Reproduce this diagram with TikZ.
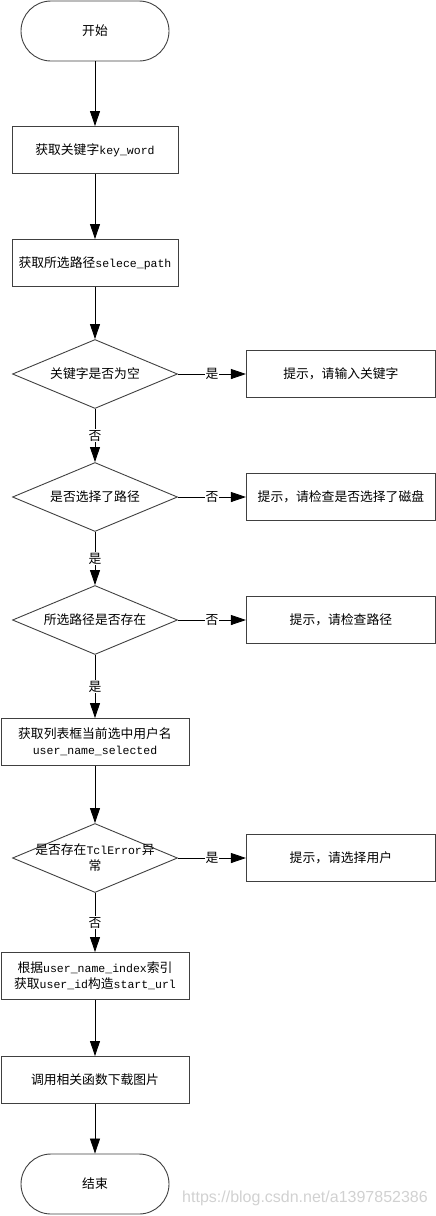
\documentclass[tikz,border=0pt]{standalone}
\usepackage{fontspec}
\setmainfont{Noto Sans CJK SC}
\newfontfamily\codefont{Liberation Mono}[Scale=0.9]
\newfontfamily\markfont{Liberation Sans}
\newcommand{\code}[1]{{\codefont #1}}
\usetikzlibrary{arrows.meta, positioning, shapes.geometric}

\begin{document}
\begin{tikzpicture}[x=1pt, y=-1pt, terminal/.style={rectangle, draw=black!75, line width=0.9pt, rounded corners=30pt, minimum width=148pt, minimum height=60pt}, process/.style={rectangle, draw=black!75, line width=0.9pt, minimum width=166pt, minimum height=47pt, align=center}, decision/.style={diamond, draw=black!75, line width=0.9pt, minimum width=165pt, minimum height=69pt, inner sep=0pt, shape aspect=2.4, align=center}, hint/.style={process, minimum width=189pt}, answer/.style={fill=white, inner sep=1pt}, every node/.style={font=\fontsize{12.8}{16}\selectfont}, ->, >={Triangle[length=15pt, width=10pt]}, line width=0.8pt, node distance=68pt]
    \useasboundingbox (0,0) rectangle (436,1216);

    % main column
    \node[terminal] (start) at (95,31) {开始};
    \node[process] (getkey) at (95,150) {获取关键字\code{key\_word}};
    \node[process] (getpath) at (95,263) {获取所选路径\code{selece\_path}};
    \node[decision] (ifempty) at (95,374) {关键字是否为空};
    \node[decision] (ifpath) at (95,497) {是否选择了路径};
    \node[decision] (ifexist) at (95,620) {所选路径是否存在};
    \node[process, minimum width=188pt] (getuser) at (95,742) {获取列表框当前选中用户名\\\code{user\_name\_selected}};
    \node[decision] (iferror) at (95,858) {\makebox[80pt]{是否存在\code{TclError}异}\\常};
    \node[process, minimum width=188pt] (getid) at (95,976) {根据\code{user\_name\_index}索引\\获取\code{user\_id}构造\code{start\_url}};
    \node[process, minimum width=188pt] (download) at (95,1080) {调用相关函数下载图片};
    \node[terminal] (stop) at (95,1184) {结束};

    % hints
    \node[hint, right=of ifempty] (tipkey) {提示，请输入关键字};
    \node[hint, right=of ifpath] (tipdisk) {提示，请检查是否选择了磁盘};
    \node[hint, right=of ifexist] (tippath) {提示，请检查路径};
    \node[hint, right=of iferror] (tipuser) {提示，请选择用户};

    \draw (start) -- (getkey);
    \draw (getkey) -- (getpath);
    \draw (getpath) -- (ifempty);
    \draw (ifempty) -- node[answer] {是} (tipkey);
    \draw (ifempty) -- node[answer] {否} (ifpath);
    \draw (ifpath) -- node[answer] {否} (tipdisk);
    \draw (ifpath) -- node[answer] {是} (ifexist);
    \draw (ifexist) -- node[answer] {否} (tippath);
    \draw (ifexist) -- node[answer] {是} (getuser);
    \draw (getuser) -- (iferror);
    \draw (iferror) -- node[answer] {是} (tipuser);
    \draw (iferror) -- node[answer] {否} (getid);
    \draw (getid) -- (download);
    \draw (download) -- (stop);

    \node[font=\markfont\fontsize{16}{18}\selectfont, text=black!18] (watermark) at (305,1198) {https://blog.csdn.net/a1397852386};
\end{tikzpicture}
\end{document}
